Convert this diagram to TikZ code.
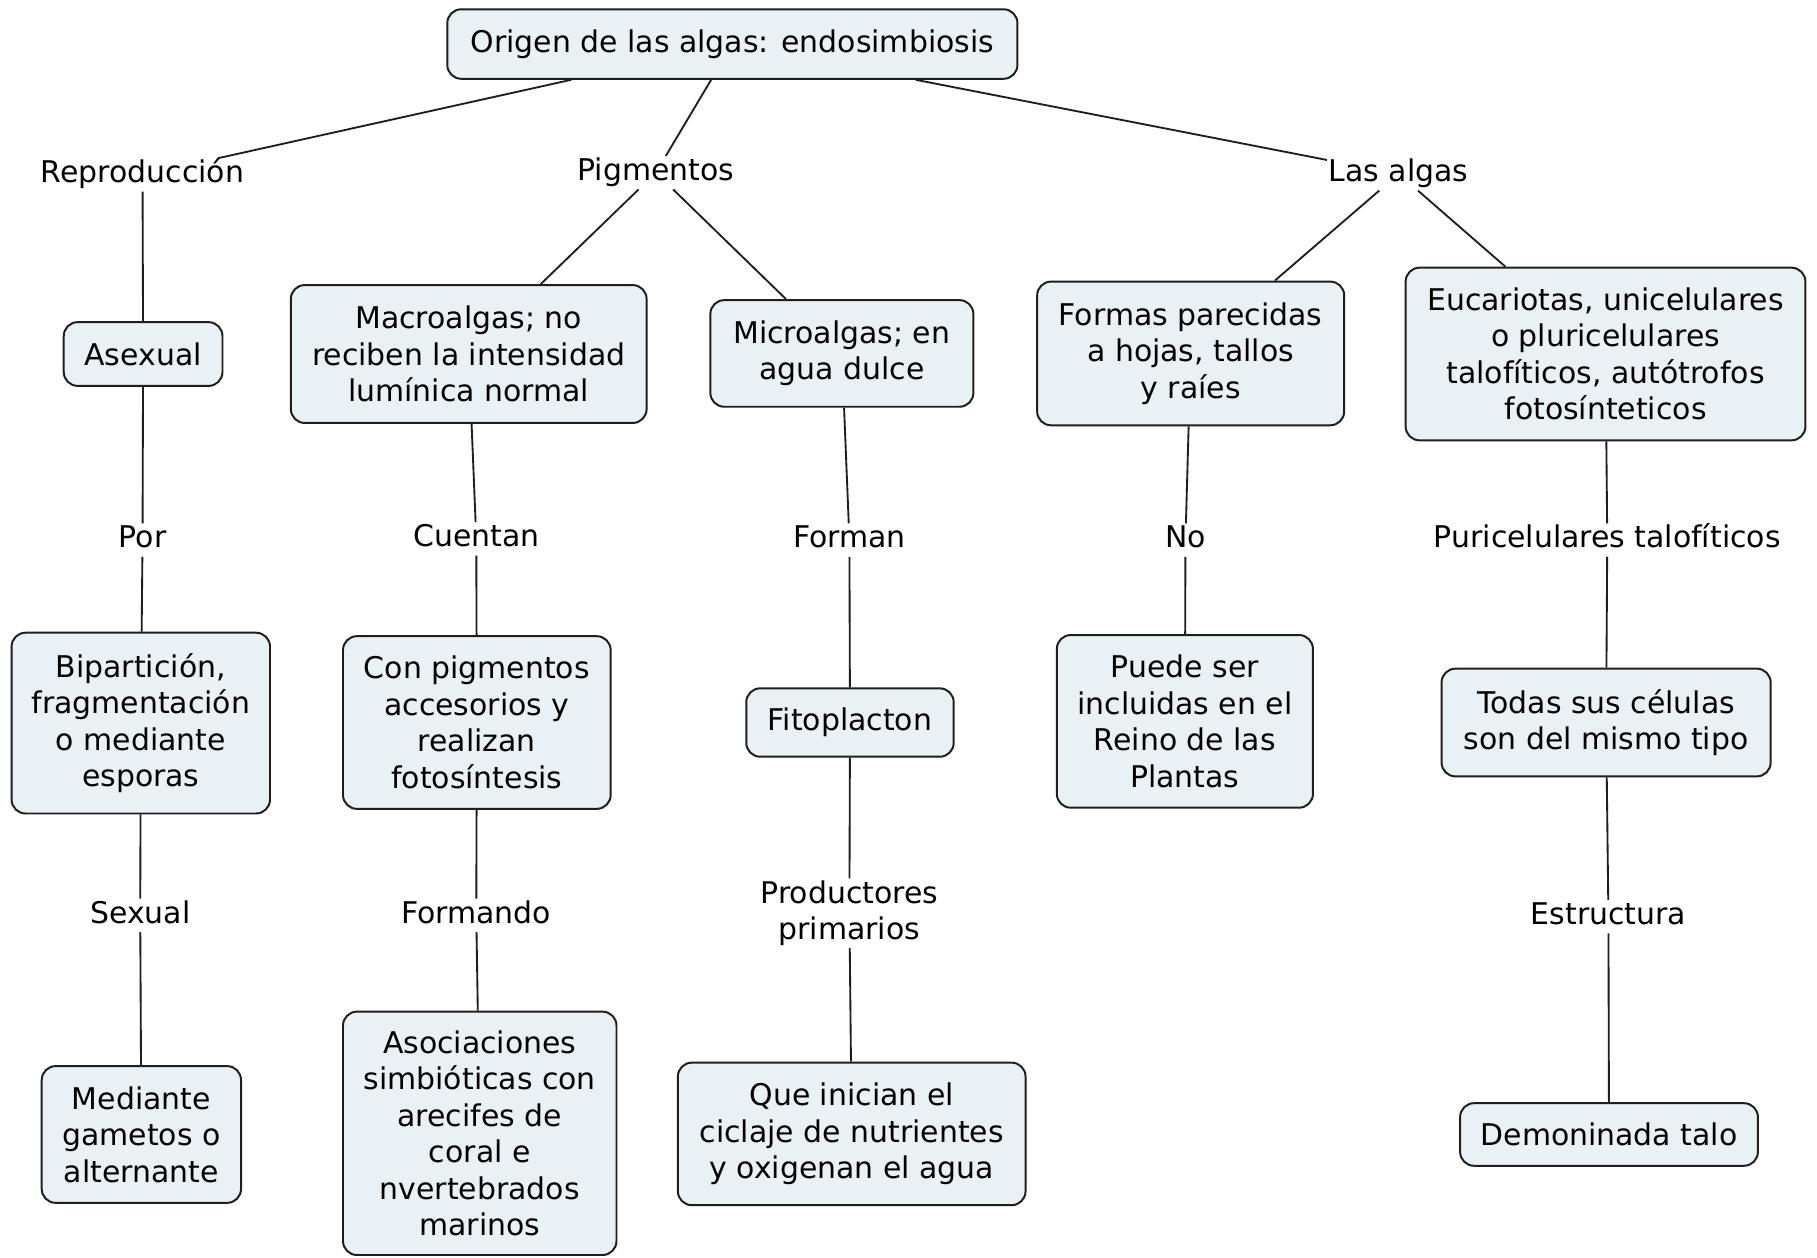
\documentclass[tikz,border=0pt]{standalone}
\usepackage{fontspec}
\setmainfont{DejaVu Sans}
\definecolor{boxfill}{RGB}{234,241,244}
\definecolor{lineclr}{RGB}{30,30,30}
\begin{document}
\begin{tikzpicture}[x=1pt,y=-1pt,
  every node/.style={font=\fontsize{25.8}{31.5}\selectfont, align=center},
  cbox/.style={draw=lineclr, line width=1.7pt, fill=boxfill, rounded corners=12pt, inner sep=0pt},
  lbl/.style={inner sep=1.5pt, text height=19.5pt, text depth=6pt},
  conn/.style={draw=lineclr, line width=1.6pt}]
\useasboundingbox[fill=white] (0,0) rectangle (1568,1085);
% boxes
\node[cbox, minimum width=492pt, minimum height=60pt] (top) at (632,38) {Origen de las algas: endosimbiosis};
\node[cbox, minimum width=137pt, minimum height=55pt] (asexual) at (123.5,305.5) {Asexual};
\node[cbox, minimum width=223pt, minimum height=156pt] (bip) at (121.5,624) {Bipartición,\\fragmentación\\o mediante\\esporas};
\node[cbox, minimum width=172pt, minimum height=118pt] (mediante) at (122,979) {Mediante\\gametos o\\alternante};
\node[cbox, minimum width=307pt, minimum height=119pt] (macro) at (404.5,305.5) {Macroalgas; no\\reciben la intensidad\\lumínica normal};
\node[cbox, minimum width=227pt, minimum height=92pt] (micro) at (726.5,305) {Microalgas; en\\agua dulce};
\node[cbox, minimum width=231pt, minimum height=149pt] (conpig) at (411.5,623.5) {Con pigmentos\\accesorios y\\realizan\\fotosíntesis};
\node[cbox, minimum width=236pt, minimum height=210pt] (asoc) at (414,978) {Asociaciones\\simbióticas con\\arecifes de\\coral e\\nvertebrados\\marinos};
\node[cbox, minimum width=179pt, minimum height=59pt] (fito) at (733.5,623.5) {Fitoplacton};
\node[cbox, minimum width=300pt, minimum height=123pt] (que) at (735,978.5) {Que inician el\\ciclaje de nutrientes\\y oxigenan el agua};
\node[cbox, minimum width=265pt, minimum height=124pt] (formas) at (1027.5,305) {Formas parecidas\\a hojas, tallos\\y raíes};
\node[cbox, minimum width=345pt, minimum height=149pt] (euc) at (1385.5,305.5) {Eucariotas, unicelulares\\o pluricelulares\\talofíticos, autótrofos\\fotosínteticos};
\node[cbox, minimum width=221pt, minimum height=149pt] (puede) at (1022.5,622.5) {Puede ser\\incluidas en el\\Reino de las\\Plantas};
\node[cbox, minimum width=284pt, minimum height=93pt] (todas) at (1386,623.5) {Todas sus células\\son del mismo tipo};
\node[cbox, minimum width=257pt, minimum height=54pt] (demon) at (1388.5,979) {Demoninada talo};
% labels
\node[lbl] (repro) at (123,151) {Reproducción};
\node[lbl] (pig) at (566,149) {Pigmentos};
\node[lbl] (algas) at (1207,150) {Las algas};
\node[lbl] (por) at (123,466) {Por};
\node[lbl] (sexual) at (121,790) {Sexual};
\node[lbl] (cuentan) at (411,465) {Cuentan};
\node[lbl] (formando) at (411,790) {Formando};
\node[lbl] (forman) at (733,466) {Forman};
\node[inner sep=1.5pt] (prod) at (733,788) {Productores\\primarios};
\node[lbl] (no) at (1023,466) {No};
\node[lbl] (puri) at (1387,466) {Puricelulares talofíticos};
\node[lbl] (estr) at (1388,791) {Estructura};
% connectors
\path[conn] (top) -- (repro);
\path[conn] (top) -- (pig);
\path[conn] (top) -- (algas);
\path[conn] (repro) -- (asexual);
\path[conn] (asexual) -- (por);
\path[conn] (por) -- (bip);
\path[conn] (bip) -- (sexual);
\path[conn] (sexual) -- (mediante);
\path[conn] (pig) -- (macro);
\path[conn] (pig) -- (micro);
\path[conn] (macro) -- (cuentan);
\path[conn] (cuentan) -- (conpig);
\path[conn] (conpig) -- (formando);
\path[conn] (formando) -- (asoc);
\path[conn] (micro) -- (forman);
\path[conn] (forman) -- (fito);
\path[conn] (fito) -- (prod);
\path[conn] (prod) -- (que);
\path[conn] (algas) -- (formas);
\path[conn] (algas) -- (euc);
\path[conn] (formas) -- (no);
\path[conn] (no) -- (puede);
\path[conn] (euc) -- (puri);
\path[conn] (puri) -- (todas);
\path[conn] (todas) -- (estr);
\path[conn] (estr) -- (demon);
\end{tikzpicture}
\end{document}
